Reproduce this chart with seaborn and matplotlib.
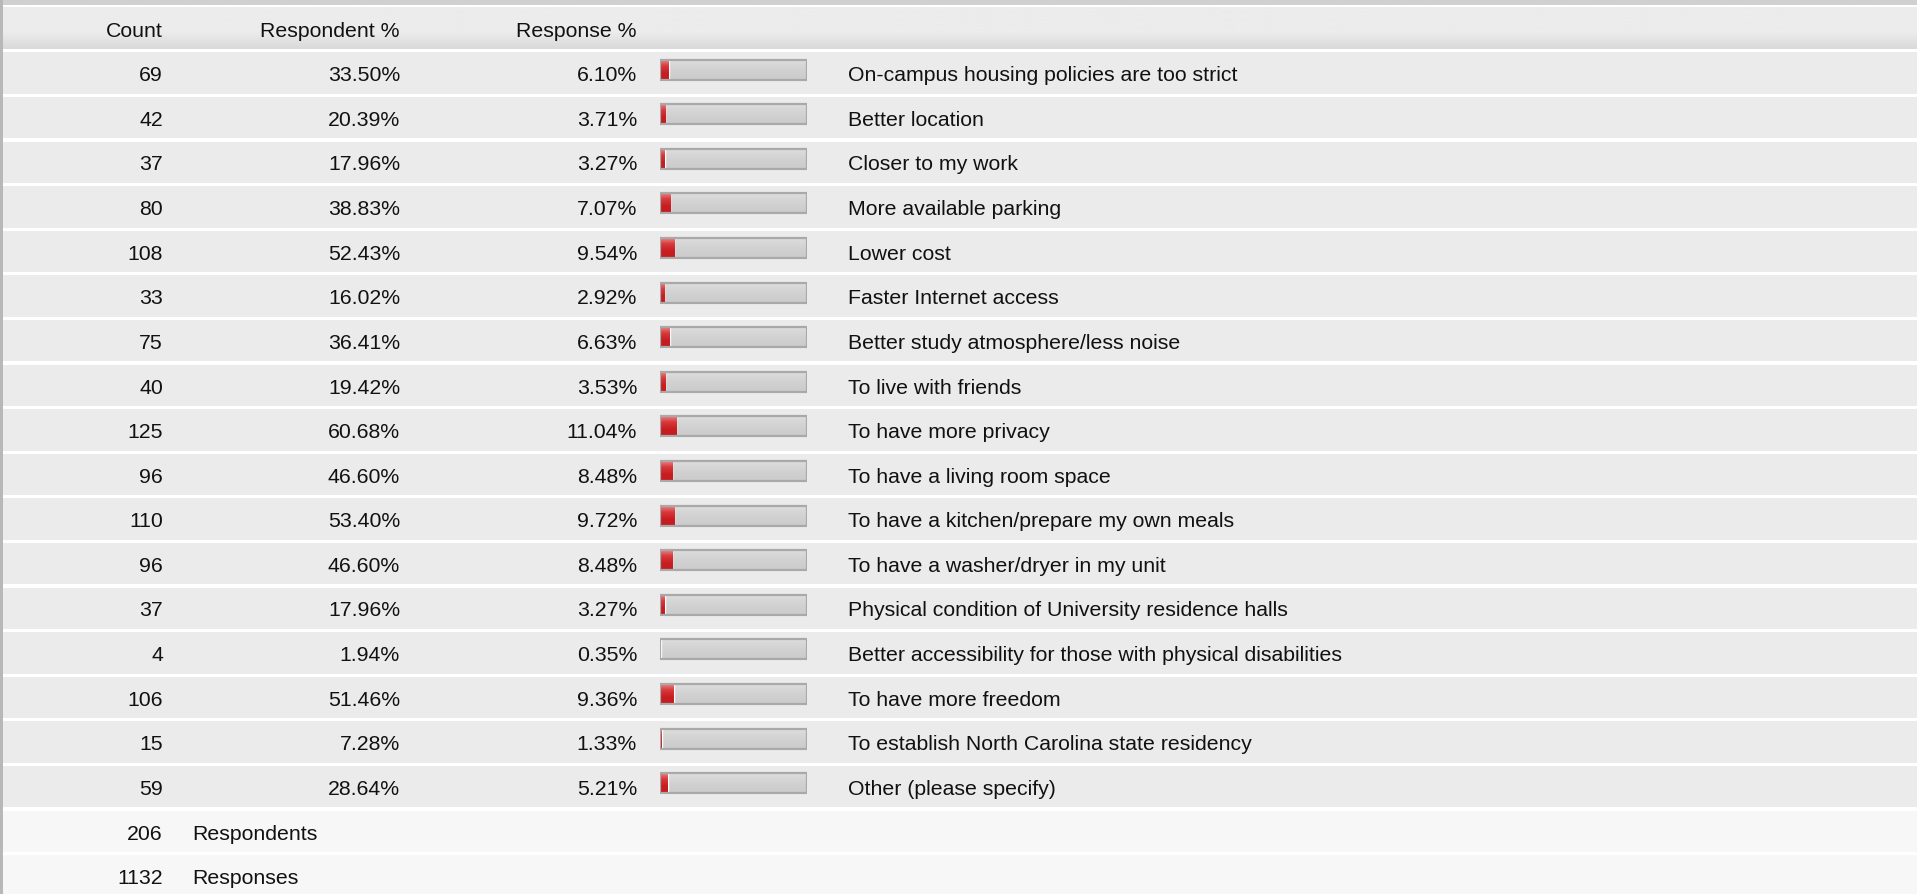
import numpy as np
import pandas as pd
import seaborn as sns
import matplotlib.pyplot as plt

labels = [
    'On-campus housing policies are too strict',
    'Better location',
    'Closer to my work',
    'More available parking',
    'Lower cost',
    'Faster Internet access',
    'Better study atmosphere/less noise',
    'To live with friends',
    'To have more privacy',
    'To have a living room space',
    'To have a kitchen/prepare my own meals',
    'To have a washer/dryer in my unit',
    'Physical condition of University residence halls',
    'Better accessibility for those with physical disabilities',
    'To have more freedom',
    'To establish North Carolina state residency',
    'Other (please specify)',
]
counts = [69, 42, 37, 80, 108, 33, 75, 40, 125, 96, 110, 96, 37, 4, 106, 15, 59]
respondent_pct = [33.50, 20.39, 17.96, 38.83, 52.43, 16.02, 36.41, 19.42, 60.68,
                  46.60, 53.40, 46.60, 17.96, 1.94, 51.46, 7.28, 28.64]
response_pct = [6.10, 3.71, 3.27, 7.07, 9.54, 2.92, 6.63, 3.53, 11.04,
                8.48, 9.72, 8.48, 3.27, 0.35, 9.36, 1.33, 5.21]
header = ['Count', 'Respondent %', 'Response %']
totals = [206, 1132]
total_names = ['Respondents', 'Responses']

df = pd.DataFrame({'label': labels, 'count': counts,
                   'respondent': respondent_pct, 'response': response_pct,
                   'full': 100.0})

sns.set_style('white')
plt.rcParams['font.family'] = ['Liberation Sans', 'DejaVu Sans']

W, H = 1917, 894
fig = plt.figure(figsize=(W / 100, H / 100), dpi=100)
fig.patch.set_facecolor('white')

# background axes in pixel coordinates
ax = fig.add_axes([0, 0, 1, 1])
ax.set_xlim(0, W)
ax.set_ylim(H, 0)
ax.axis('off')

FS = 15.3
TXT = '#111111'
row_top0 = 52.3
pitch = 44.6
row_h = 41.5
base_off = 29.0  # baseline below the row top

# top strip and header with gradient
ax.axhspan(0, 4.5, color='#d0d0d0', lw=0)
grad = np.linspace(0, 1, 60).reshape(-1, 1)
grad = np.where(grad < 0.6, 0.0, (grad - 0.6) / 0.4)
ax.imshow(grad, extent=(0, W, 49.3, 7.3), aspect='auto',
          cmap=sns.blend_palette(['#ececec', '#d9d9d9'], as_cmap=True), zorder=0)
for x, h in zip([163, 400, 637], header):
    ax.text(x, 37.3, h, ha='right', va='baseline', fontsize=FS, color=TXT)

for i, row in df.iterrows():
    top = row_top0 + i * pitch
    ax.fill_between([0, W], top, top + row_h, color='#ebebeb', lw=0)
    yb = top + base_off
    ax.text(163, yb, f"{row['count']}", ha='right', va='baseline', fontsize=FS, color=TXT)
    ax.text(400, yb, f"{row['respondent']:.2f}%", ha='right', va='baseline', fontsize=FS, color=TXT)
    ax.text(637, yb, f"{row['response']:.2f}%", ha='right', va='baseline', fontsize=FS, color=TXT)
    ax.text(848, yb, row['label'], ha='left', va='baseline', fontsize=FS, color=TXT)

for j, (n, name) in enumerate(zip(totals, total_names)):
    top = row_top0 + (len(df) + j) * pitch
    ax.fill_between([0, W], top, top + row_h, color='#f7f7f7', lw=0)
    yb = top + base_off
    ax.text(163, yb, str(n), ha='right', va='baseline', fontsize=FS, color=TXT)
    ax.text(192, yb, name, ha='left', va='baseline', fontsize=FS, color=TXT)

# left border
ax.axvspan(0, 2.5, color='#b8b8b8', lw=0)

# bar column: categorical axis aligned with rows (bars sit a little above centre)
n = len(df)
y_top = row_top0 - (pitch - row_h) / 2 - 3.5
y_bot = y_top + n * pitch
x0, x1 = 660, 807
bax = fig.add_axes([x0 / W, 1 - y_bot / H, (x1 - x0) / W, (y_bot - y_top) / H])
bax.patch.set_alpha(0)
bw = 0.45
sns.barplot(data=df, x='full', y='label', color='#d3d3d3', width=bw,
            saturation=1, ax=bax, zorder=1)
sns.barplot(data=df, x='response', y='label', color='#d1282c', width=bw,
            saturation=1, ax=bax, zorder=2)
sns.barplot(data=df, x='full', y='label', color='#d3d3d3', width=bw,
            saturation=1, fill=False, ax=bax, zorder=4)

# vertical gradients inside the bars
gray_cmap = sns.blend_palette(['#dedede', '#d2d2d2', '#cbcbcb'], as_cmap=True)
red_cmap = sns.blend_palette(['#ec8a8a', '#d8393b', '#c81e22', '#c41c20'], as_cmap=True)
g = np.linspace(0, 1, 40).reshape(-1, 1)
for k, p in enumerate(bax.patches[:2 * n]):
    x, y, w, h = p.get_x(), p.get_y(), p.get_width(), p.get_height()
    if w <= 0:
        continue
    cm = gray_cmap if k < n else red_cmap
    im = bax.imshow(g, extent=(x, x + w, y + h, y), aspect='auto', cmap=cm,
                    zorder=p.get_zorder() + 0.5, interpolation='bilinear')
    im.set_clip_path(p)
for p in bax.patches[2 * n:]:
    p.set_edgecolor('#a9a9a9')
    p.set_linewidth(1.6)
    p.set_facecolor('none')
bax.set_xlim(0, 100)
bax.set_ylim(n - 0.5, -0.5)
bax.axis('off')

fig.savefig('out.png', dpi=100)
